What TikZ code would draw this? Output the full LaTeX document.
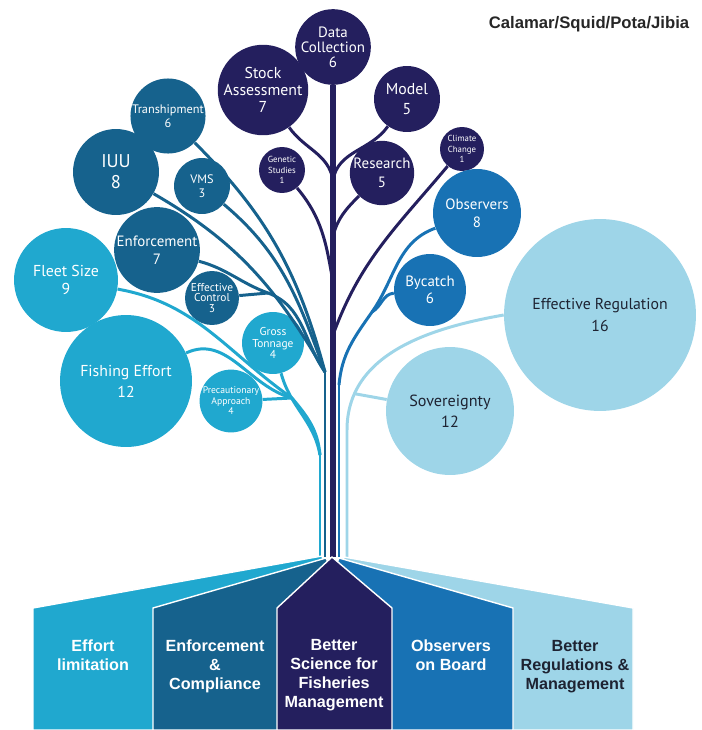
\documentclass[tikz,border=0pt]{standalone}
\usepackage{fontspec}
\setmainfont{PT Sans}
\newfontfamily\arialfont{Liberation Sans}
\usepackage{tikz}

\definecolor{effortcol}{RGB}{32,168,207}
\definecolor{enforcecol}{RGB}{22,98,141}
\definecolor{sciencecol}{RGB}{36,31,94}
\definecolor{observecol}{RGB}{24,114,180}
\definecolor{regulcol}{RGB}{158,213,232}
\definecolor{darktext}{RGB}{30,35,50}

\tikzset{
    bubble/.style={circle, inner sep=0pt, align=center},
    twig/.style={line width=1.7pt},
    panel/.style={draw=white, line width=0.8pt},
    panellabel/.style={font=\arialfont\bfseries\fontsize{9.2}{10.8}\selectfont, align=center, anchor=north, inner sep=0pt, text=white}
}

\begin{document}
\begin{tikzpicture}[x=0.02cm, y=-0.02cm]
    \useasboundingbox (0,0) rectangle (701,730);

    % Title
    \node[font=\arialfont\bfseries\fontsize{9.5}{11}\selectfont, text=black!85] (title) at (589,24) {Calamar/Squid/Pota/Jibia};

    % Bubbles: name/x/y/radius/fill/text colour/font size/line skip/text
    \foreach \name/\x/\y/\r/\col/\tc/\fs/\ls/\txt in {
        datacol/333/47/35/sciencecol/white/8.5/8.5/{Data\\Collection\\6},
        stock/263/90/40/sciencecol/white/9/9.5/{Stock\\Assessment\\7},
        model/407/99/33/sciencecol/white/9/11/{Model\\5},
        research/382/173/32/sciencecol/white/8.5/11/{Research\\5},
        genetic/282/170/23/sciencecol/white/5/6/{Genetic\\Studies\\1},
        climate/462/149/22/sciencecol/white/5/6/{Climate\\Change\\1},
        tranship/168/116/35/enforcecol/white/7/8/{Transhipment\\6},
        iuu/116/172/43/enforcecol/white/10.5/12/{IUU\\8},
        vms/202/186/28/enforcecol/white/7/8/{VMS\\3},
        enforce/157/250/40/enforcecol/white/8.5/10.5/{Enforcement\\7},
        effcontrol/212/298/27/enforcecol/white/6.5/6/{Effective\\Control\\3},
        fleet/66/280/52/effortcol/white/9/10/{Fleet Size\\9},
        grosston/273/343/31/effortcol/white/6.5/6.5/{Gross\\Tonnage\\4},
        fisheffort/126/381/66/effortcol/white/9/12/{Fishing Effort\\12},
        precaution/231/401/30/effortcol/white/5.5/6/{Precautionary\\Approach\\4},
        observers/477/213/44/observecol/white/8.5/10/{Observers\\8},
        bycatch/430/290/36/observecol/white/8.5/9.5/{Bycatch\\6},
        effreg/600/315/96/regulcol/darktext/9/13/{Effective Regulation\\16},
        sovereign/450/411/64/regulcol/darktext/9.2/12/{Sovereignty\\12}} {
        \node[bubble, fill=\col, text=\tc, minimum size=\r*0.04cm, font=\fontsize{\fs}{\ls}\selectfont] (\name) at (\x,\y) {\txt};
    }

    % Better science (navy)
    \coordinate (sbase) at (333,557);
    \coordinate (jsa) at (333,180);
    \coordinate (jre) at (333,236);
    \coordinate (jge) at (333,282);
    \coordinate (jcl) at (333,335);
    \draw[sciencecol, line width=3.4pt] (datacol) -- (sbase);
    \draw[twig, sciencecol] (stock) to[out=-55,in=100] (jsa);
    \draw[twig, sciencecol] (model) to[out=-125,in=80] (jsa);
    \draw[twig, sciencecol] (research) to[out=-135,in=75] (jre);
    \draw[twig, sciencecol] (genetic) to[out=-50,in=100] (jge);
    \draw[twig, sciencecol] (climate) to[out=-130,in=70] (jcl);

    % Enforcement (teal)
    \coordinate (ebase) at (325,557);
    \coordinate (jen) at (325,372);
    \coordinate (jec) at (268,293);
    \draw[twig, enforcecol] (jen) -- (ebase);
    \draw[twig, enforcecol] (tranship) to[out=-45,in=105] (jen);
    \draw[twig, enforcecol] (iuu) to[out=-30,in=120] (jen);
    \draw[twig, enforcecol] (vms) to[out=-40,in=110] (jen);
    \draw[twig, enforcecol] (enforce) to[out=-15,in=160] (jec) to[out=-20,in=125] (jen);
    \draw[twig, enforcecol] (effcontrol) -- (jec);

    % Effort (cyan)
    \coordinate (fbase) at (320,557);
    \coordinate (jef) at (320,455);
    \coordinate (jfe) at (292,398);
    \draw[twig, effortcol] (jef) -- (fbase);
    \draw[twig, effortcol] (fleet) to[out=-10,in=145] (jfe);
    \draw[twig, effortcol] (fisheffort) to[out=25,in=165] (jfe);
    \draw[twig, effortcol] (precaution) -- (jfe);
    \draw[twig, effortcol] (jfe) to[out=-50,in=95] (jef);
    \draw[twig, effortcol] (grosston) to[out=-75,in=100] (jef);

    % Observers (blue)
    \coordinate (obase) at (339,557);
    \coordinate (job) at (339,385);
    \coordinate (jby) at (372,312);
    \draw[twig, observecol] (job) -- (obase);
    \draw[twig, observecol] (observers) to[out=-160,in=55] (jby) to[out=-125,in=85] (job);
    \draw[twig, observecol] (bycatch) to[out=185,in=30] (jby);

    % Regulation (pale)
    \coordinate (rbase) at (347,557);
    \coordinate (jrv) at (347,430);
    \draw[twig, regulcol] (effreg.west) to[out=190,in=90] coordinate[pos=0.82] (jsv) (jrv) -- (rbase);
    \draw[twig, regulcol] (sovereign) -- (jsv);

    % Banner panels
    \path[panel, fill=effortcol] (33,730) -- (33,608) -- (322,556) -- (332,600) -- (332,730) -- cycle;
    \path[panel, fill=enforcecol] (153,730) -- (153,608) -- (326,558) -- (332,570) -- (332,730) -- cycle;
    \path[panel, fill=regulcol] (633,730) -- (633,608) -- (344,557) -- (334,600) -- (334,730) -- cycle;
    \path[panel, fill=observecol] (513,730) -- (513,608) -- (339,558) -- (334,570) -- (334,730) -- cycle;
    \path[panel, fill=sciencecol] (277,730) -- (277,608) -- (332,557) -- (392,608) -- (392,730) -- cycle;

    \node[panellabel] (lbeffort) at (93,639) {Effort\\limitation};
    \node[panellabel] (lbenforce) at (215,639) {Enforcement\\\&\\Compliance};
    \node[panellabel] (lbscience) at (334,639) {Better\\Science for\\Fisheries\\Management};
    \node[panellabel] (lbobserve) at (451,639) {Observers\\on Board};
    \node[panellabel, text=darktext] (lbregul) at (575,640) {Better\\Regulations \&\\Management};
\end{tikzpicture}
\end{document}
